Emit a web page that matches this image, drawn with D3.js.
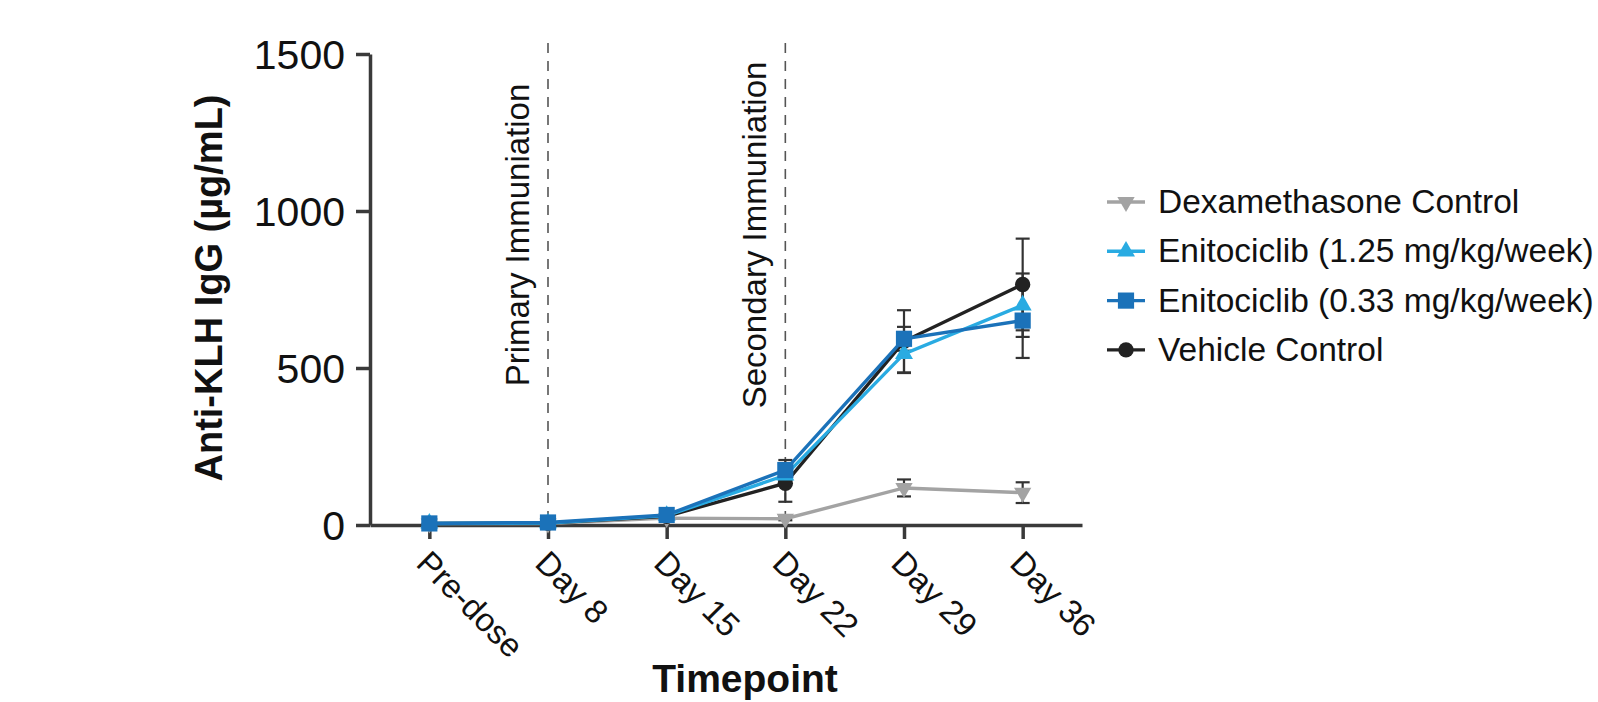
<!DOCTYPE html>
<html>
<head>
<meta charset="utf-8">
<script src="https://cdn.jsdelivr.net/npm/d3@7"></script>
<style>
  html, body { margin: 0; padding: 0; background: #fff; }
  svg { display: block; }
  text { font-family: "Liberation Sans", Arial, Helvetica, sans-serif; fill: #111; }
</style>
</head>
<body>
<svg id="chart" width="1598" height="702"></svg>
<script>
// ---- Data ----
const categories = ["Pre-dose", "Day 8", "Day 15", "Day 22", "Day 29", "Day 36"];
const yTicks = [0, 500, 1000, 1500];

const seriesNames = [
  "Dexamethasone Control",
  "Enitociclib (1.25 mg/kg/week)",
  "Enitociclib (0.33 mg/kg/week)",
  "Vehicle Control"
];

const dexaValues   = [5, 5, 22, 20, 118, 103];
const dexaErrors   = [0, 0, 0, 5, 27, 33];
const eni125Values = [5, 6, 30, 158, 545, 700];
const eni125Errors = [0, 0, 0, 0, 61, 101];
const eni033Values = [5, 8, 32, 175, 593, 651];
const eni033Errors = [0, 0, 0, 32, 38, 119];
const vehValues    = [5, 6, 28, 133, 585, 766];
const vehErrors    = [0, 0, 0, 59, 99, 146];

const immunizations = [
  { at: "Day 8", label: "Primary Immuniation" },
  { at: "Day 22", label: "Secondary Immuniation" }
];

// ---- Styles ----
const series = [
  { name: seriesNames[0], values: dexaValues,   errors: dexaErrors,   color: "#a3a3a3", symbol: "down" },
  { name: seriesNames[3], values: vehValues,    errors: vehErrors,    color: "#222222", symbol: "circle" },
  { name: seriesNames[1], values: eni125Values, errors: eni125Errors, color: "#29abe2", symbol: "up" },
  { name: seriesNames[2], values: eni033Values, errors: eni033Errors, color: "#1b72b9", symbol: "square" }
];
const legendOrder = [0, 2, 3, 1]; // indices into series: Dexa, 1.25, 0.33, Vehicle

const svg = d3.select("#chart");
const axisColor = "#3a3a3a";

const x = d3.scalePoint().domain(categories).range([370, 1082]).padding(0.5);
const y = d3.scaleLinear().domain([0, 1500]).range([525, 54]);

function symbolPath(kind) {
  if (kind === "circle") return d3.symbol(d3.symbolCircle, 185)();
  if (kind === "square") return d3.symbol(d3.symbolSquare, 262)();
  if (kind === "up") return d3.symbol(d3.symbolTriangle, 140)();
  if (kind === "down") return d3.symbol(d3.symbolTriangle, 130)();
}
function symbolTransform(kind, px, py) {
  return kind === "down" ? `translate(${px},${py}) rotate(180)` : `translate(${px},${py})`;
}

// ---- Immunization dashed lines + labels ----
immunizations.forEach(d => {
  const xx = x(d.at);
  svg.append("line")
    .attr("x1", xx).attr("x2", xx)
    .attr("y1", 43).attr("y2", 525)
    .attr("stroke", "#555").attr("stroke-width", 1.6)
    .attr("stroke-dasharray", "10,8");
  svg.append("text")
    .attr("transform", `translate(${xx - 19},235) rotate(-90)`)
    .attr("text-anchor", "middle")
    .style("font-size", "33px")
    .text(d.label);
});

// ---- Axes ----
const yAxis = d3.axisLeft(y).tickValues(yTicks).tickFormat(d3.format("d"))
  .tickSize(14).tickSizeOuter(0).tickPadding(11);
const gy = svg.append("g").attr("transform", "translate(370,0)").call(yAxis);
gy.select(".domain").attr("stroke", axisColor).attr("stroke-width", 3.5);
gy.selectAll(".tick line").attr("stroke", axisColor).attr("stroke-width", 3.5);
gy.selectAll(".tick text")
  .style("font-size", "41px")
  .style("font-family", "'Liberation Sans', Arial, sans-serif")
  .attr("fill", "#111")
  .attr("dy", "0.36em");

const xAxis = d3.axisBottom(x).tickSize(14).tickSizeOuter(0).tickPadding(0);
const gx = svg.append("g").attr("transform", "translate(0,525)").call(xAxis);
gx.select(".domain").attr("stroke", axisColor).attr("stroke-width", 3.5);
gx.selectAll(".tick line").attr("stroke", axisColor).attr("stroke-width", 3.5);
gx.selectAll(".tick text")
  .attr("y", null).attr("dy", null)
  .attr("text-anchor", "start")
  .attr("transform", "translate(-15,40) rotate(45)")
  .style("font-size", "33px")
  .style("font-family", "'Liberation Sans', Arial, sans-serif")
  .attr("fill", "#111");

// Axis titles
svg.append("text")
  .attr("transform", "translate(222,288) rotate(-90)")
  .attr("text-anchor", "middle")
  .style("font-size", "38px").style("font-weight", "bold")
  .text("Anti-KLH IgG (µg/mL)");
svg.append("text")
  .attr("x", 745).attr("y", 692)
  .attr("text-anchor", "middle")
  .style("font-size", "39px").style("font-weight", "bold")
  .text("Timepoint");

// ---- Error bars ----
const capHalf = 7;
series.forEach(s => {
  const g = svg.append("g");
  categories.forEach((c, i) => {
    const e = s.errors[i];
    if (!e) return;
    const cx = x(c), top = y(s.values[i] + e), bot = y(Math.max(0, s.values[i] - e));
    g.append("line").attr("x1", cx).attr("x2", cx).attr("y1", top).attr("y2", bot)
      .attr("stroke", "#333").attr("stroke-width", 2.2);
    [top, bot].forEach(yy => g.append("line")
      .attr("x1", cx - capHalf).attr("x2", cx + capHalf).attr("y1", yy).attr("y2", yy)
      .attr("stroke", "#333").attr("stroke-width", 2.2));
  });
});

// ---- Lines and markers ----
const line = d3.line().x((d, i) => x(categories[i])).y(d => y(d));
series.forEach(s => {
  svg.append("path").datum(s.values)
    .attr("d", line).attr("fill", "none")
    .attr("stroke", s.color).attr("stroke-width", 3.4);
});
series.forEach(s => {
  svg.append("g").selectAll("path").data(s.values).join("path")
    .attr("d", symbolPath(s.symbol))
    .attr("transform", (d, i) => symbolTransform(s.symbol, x(categories[i]), y(d)))
    .attr("fill", s.color);
});

// ---- Legend ----
const legend = svg.append("g");
legendOrder.forEach((si, r) => {
  const s = series[si];
  const cy = 202 + r * 49.3;
  legend.append("line").attr("x1", 1107).attr("x2", 1145).attr("y1", cy).attr("y2", cy)
    .attr("stroke", s.color).attr("stroke-width", 3.4);
  legend.append("path").attr("d", symbolPath(s.symbol))
    .attr("transform", symbolTransform(s.symbol, 1126, cy))
    .attr("fill", s.color);
  legend.append("text").attr("x", 1158).attr("y", cy + 11)
    .style("font-size", "33.5px")
    .text(s.name);
});
</script>
</body>
</html>
